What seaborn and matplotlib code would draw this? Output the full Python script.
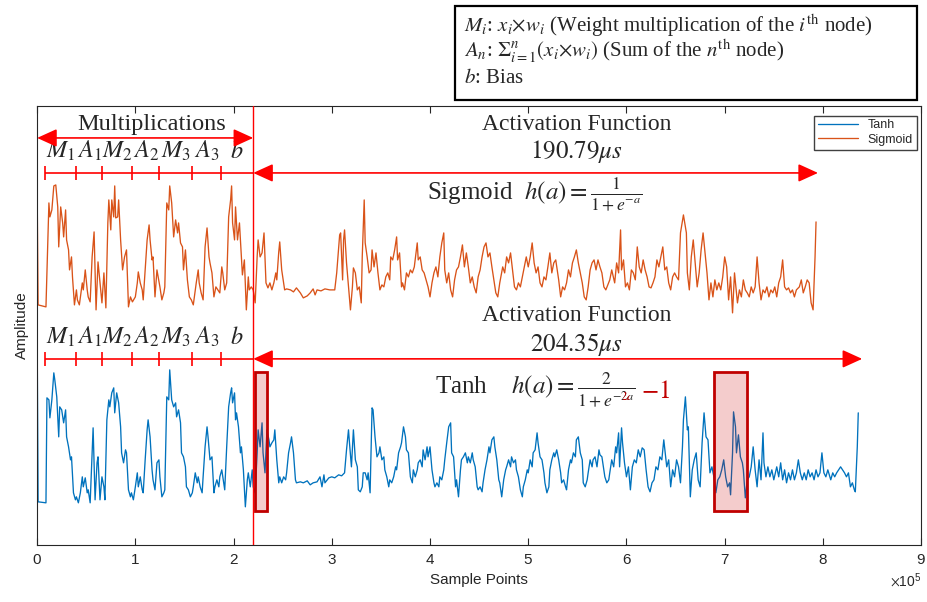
import numpy as np
import pandas as pd
import matplotlib
matplotlib.use("Agg")
import matplotlib.pyplot as plt
import seaborn as sns
from matplotlib.patches import Rectangle
from matplotlib.transforms import Bbox, TransformedBbox, IdentityTransform

# ---------------------------------------------------------------------------
# Power traces (x in thousands of samples, amplitude in arbitrary units)
# ---------------------------------------------------------------------------
sigmoid_x = [
    0, 1, 9, 12, 13, 15, 17, 19, 21, 22,
    24, 26, 27, 29, 30, 32, 33, 35, 36, 38,
    40, 41, 43, 46, 47, 49, 51, 52, 54, 56,
    58, 60, 62, 64, 66, 68, 70, 72, 73, 75,
    76, 78, 79, 80, 82, 83, 85, 87, 89, 91,
    93, 95, 97, 100, 102, 103, 105, 107, 108, 110,
    112, 114, 115, 117, 118, 120, 122, 125, 127, 129,
    130, 132, 134, 135, 137, 139, 141, 143, 144, 146,
    148, 149, 151, 153, 155, 157, 159, 162, 164, 165,
    167, 169, 171, 173, 175, 176, 178, 180, 182, 184,
    186, 188, 189, 191, 193, 195, 197, 198, 199, 201,
    202, 204, 206, 208, 209, 211, 213, 215, 216, 218,
    220, 222, 224, 225, 227, 229, 231, 233, 235, 237,
    239, 241, 243, 244, 246, 247, 249, 252, 254, 258,
    261, 264, 268, 271, 275, 278, 281, 283, 285, 289,
    293, 298, 303, 305, 308, 309, 311, 312, 313, 315,
    317, 319, 321, 322, 324, 326, 328, 330, 331, 333,
    334, 336, 338, 340, 341, 343, 345, 347, 349, 351,
    353, 355, 357, 359, 360, 362, 364, 366, 367, 369,
    371, 372, 374, 376, 378, 380, 382, 384, 387, 388,
    390, 392, 394, 396, 398, 400, 402, 404, 406, 408,
    410, 412, 414, 415, 417, 419, 421, 423, 425, 427,
    429, 431, 433, 435, 437, 439, 441, 443, 445, 447,
    449, 451, 453, 455, 457, 459, 461, 463, 465, 467,
    469, 471, 474, 476, 478, 480, 482, 484, 486, 488,
    490, 492, 494, 496, 498, 500, 502, 504, 506, 508,
    510, 512, 514, 516, 518, 520, 522, 524, 526, 528,
    531, 533, 535, 537, 539, 541, 543, 545, 547, 549,
    551, 553, 555, 557, 559, 561, 563, 565, 567, 569,
    571, 573, 575, 577, 579, 583, 585, 588, 590, 592,
    594, 595, 597, 599, 601, 603, 605, 607, 609, 611,
    613, 615, 617, 619, 621, 623, 625, 627, 629, 631,
    633, 635, 637, 639, 641, 643, 645, 647, 649, 651,
    653, 655, 658, 660, 661, 662, 664, 666, 668, 670,
    672, 674, 676, 678, 680, 682, 684, 686, 688, 690,
    692, 694, 696, 698, 700, 702, 704, 706, 708, 710,
    713, 715, 717, 719, 721, 723, 725, 727, 729, 731,
    733, 735, 737, 739, 741, 743, 745, 747, 749, 751,
    753, 755, 757, 759, 761, 763, 765, 767, 769, 771,
    773, 776, 778, 780, 782, 784, 786, 788, 790, 792, 793,
]
sigmoid_amp = [
    357, 240, 238, 342, 328, 335, 359, 360, 338, 298,
    338, 322, 308, 335, 305, 295, 275, 288, 268, 240,
    255, 245, 240, 262, 255, 275, 255, 248, 243, 288,
    313, 235, 283, 262, 242, 272, 237, 322, 345, 315,
    345, 328, 359, 327, 328, 345, 305, 275, 288, 295,
    238, 248, 243, 248, 262, 273, 262, 255, 245, 275,
    305, 320, 305, 285, 288, 248, 275, 258, 245, 252,
    258, 342, 335, 359, 342, 308, 325, 312, 322, 302,
    298, 275, 295, 265, 248, 245, 240, 262, 275, 262,
    252, 245, 298, 317, 288, 282, 272, 248, 258, 255,
    252, 278, 272, 255, 262, 328, 345, 359, 322, 305,
    338, 305, 322, 288, 270, 285, 235, 268, 255, 258,
    255, 242, 288, 305, 288, 292, 312, 262, 257, 262,
    255, 262, 272, 265, 293, 303, 275, 255, 256, 255,
    253, 257, 252, 247, 249, 252, 256, 250, 255, 254,
    256, 255, 255, 272, 310, 312, 265, 305, 315, 282,
    258, 235, 258, 277, 272, 255, 258, 242, 288, 345,
    302, 288, 272, 275, 295, 278, 292, 272, 255, 260,
    258, 268, 272, 265, 288, 285, 295, 308, 285, 292,
    258, 262, 255, 272, 268, 275, 272, 278, 302, 285,
    288, 275, 272, 265, 258, 248, 262, 272, 278, 268,
    288, 302, 312, 275, 262, 272, 255, 248, 265, 275,
    278, 288, 300, 278, 292, 278, 262, 268, 258, 252,
    268, 275, 288, 298, 302, 288, 292, 278, 265, 252,
    248, 262, 278, 272, 288, 282, 292, 275, 258, 255,
    262, 258, 268, 278, 288, 278, 288, 302, 282, 272,
    278, 262, 258, 268, 265, 278, 292, 272, 282, 285,
    265, 248, 258, 255, 262, 275, 268, 282, 288, 295,
    282, 272, 262, 248, 245, 258, 275, 282, 285, 275,
    285, 278, 272, 258, 255, 265, 275, 262, 282, 272,
    315, 275, 285, 258, 262, 255, 275, 272, 265, 298,
    278, 272, 285, 275, 268, 258, 257, 262, 268, 285,
    278, 288, 298, 275, 278, 262, 255, 268, 272, 268,
    265, 312, 330, 318, 312, 272, 255, 288, 305, 282,
    258, 272, 295, 312, 292, 272, 245, 262, 248, 265,
    255, 262, 255, 268, 288, 278, 245, 268, 232, 272,
    242, 255, 248, 265, 255, 252, 248, 258, 252, 258,
    288, 262, 245, 255, 252, 258, 248, 255, 252, 258,
    248, 262, 268, 285, 258, 255, 257, 252, 255, 248,
    255, 258, 265, 252, 258, 265, 262, 242, 235, 288, 323,
]

tanh_x = [
    0, 1, 9, 10, 12, 13, 15, 17, 18, 20,
    22, 23, 25, 27, 29, 30, 32, 34, 35, 37,
    39, 40, 42, 44, 46, 47, 49, 51, 52, 54,
    56, 57, 59, 61, 62, 64, 66, 68, 69, 71,
    73, 74, 76, 78, 79, 81, 83, 85, 86, 88,
    90, 91, 93, 95, 96, 98, 100, 102, 103, 105,
    107, 108, 110, 112, 113, 115, 117, 118, 120, 122,
    124, 125, 127, 129, 130, 132, 134, 135, 137, 139,
    141, 142, 144, 146, 147, 149, 151, 152, 154, 156,
    158, 159, 161, 163, 164, 166, 168, 169, 171, 173,
    174, 176, 178, 180, 181, 183, 185, 186, 188, 190,
    191, 193, 195, 197, 198, 199, 201, 202, 203, 205,
    207, 208, 210, 212, 214, 215, 217, 219, 220, 222,
    224, 225, 227, 229, 230, 232, 234, 236, 237, 239,
    241, 242, 244, 246, 247, 249, 251, 253, 254, 256,
    258, 259, 261, 263, 264, 268, 271, 275, 278, 281,
    285, 288, 290, 292, 293, 297, 300, 303, 307, 310,
    313, 315, 317, 318, 320, 322, 324, 326, 327, 329,
    331, 332, 334, 336, 337, 339, 341, 342, 344, 346,
    348, 349, 351, 353, 354, 356, 358, 359, 361, 363,
    365, 366, 368, 370, 371, 373, 375, 376, 378, 380,
    382, 383, 385, 387, 388, 390, 392, 393, 395, 397,
    398, 400, 402, 404, 405, 407, 409, 410, 412, 414,
    415, 417, 419, 421, 422, 424, 426, 427, 429, 431,
    432, 434, 436, 438, 439, 441, 443, 444, 446, 448,
    449, 451, 453, 454, 456, 458, 460, 461, 463, 465,
    466, 468, 470, 471, 473, 475, 477, 478, 480, 482,
    483, 485, 487, 488, 490, 492, 494, 495, 497, 499,
    500, 502, 504, 505, 507, 509, 510, 512, 514, 516,
    517, 519, 521, 522, 524, 526, 527, 529, 531, 533,
    534, 536, 538, 539, 541, 543, 544, 546, 548, 549,
    551, 553, 555, 556, 558, 560, 561, 563, 565, 566,
    568, 570, 572, 573, 575, 577, 578, 580, 582, 583,
    585, 587, 589, 590, 592, 593, 595, 596, 598, 600,
    602, 604, 606, 608, 610, 612, 614, 616, 618, 620,
    622, 624, 626, 628, 630, 632, 634, 636, 638, 641,
    643, 645, 647, 649, 651, 653, 655, 657, 658, 660,
    662, 663, 665, 667, 669, 671, 673, 675, 677, 679,
    681, 683, 685, 687, 689, 691, 693, 695, 697, 699,
    701, 703, 705, 706, 708, 709, 711, 712, 714, 716,
    718, 719, 721, 723, 725, 727, 729, 731, 733, 735,
    737, 739, 740, 742, 744, 746, 748, 750, 753, 755,
    757, 759, 761, 763, 765, 767, 769, 771, 773, 775,
    777, 779, 781, 783, 785, 787, 789, 791, 793, 795,
    797, 799, 801, 803, 805, 808, 810, 812, 814, 816,
    818, 820, 822, 824, 826, 828, 830, 832, 833, 835, 836,
]
tanh_amp = [
    215, 43, 42, 147, 145, 127, 145, 172, 165, 148,
    108, 138, 135, 122, 135, 108, 98, 85, 88, 52,
    45, 48, 42, 52, 68, 58, 67, 52, 55, 42,
    92, 117, 45, 82, 88, 45, 68, 58, 45, 125,
    145, 138, 152, 157, 132, 152, 142, 118, 92, 82,
    95, 92, 55, 48, 52, 45, 58, 72, 58, 68,
    55, 52, 85, 115, 125, 108, 75, 65, 55, 82,
    85, 68, 48, 52, 55, 148, 145, 175, 145, 138,
    142, 128, 135, 122, 92, 88, 78, 58, 55, 48,
    52, 58, 72, 62, 68, 58, 52, 68, 98, 118,
    108, 85, 88, 52, 58, 65, 58, 68, 75, 62,
    55, 98, 138, 152, 157, 142, 152, 125, 132, 118,
    92, 98, 75, 38, 65, 72, 58, 75, 58, 52,
    92, 115, 98, 122, 92, 72, 115, 105, 98, 102,
    105, 115, 85, 62, 68, 62, 68, 65, 72, 92,
    102, 108, 92, 65, 62, 63, 62, 64, 60, 62,
    63, 68, 58, 70, 62, 67, 68, 67, 70, 69,
    72, 95, 115, 102, 78, 115, 85, 78, 55, 53,
    58, 72, 72, 65, 72, 52, 137, 135, 108, 88,
    92, 98, 85, 88, 75, 68, 58, 65, 62, 68,
    78, 75, 92, 98, 102, 118, 108, 95, 92, 68,
    62, 75, 68, 75, 82, 85, 78, 95, 85, 98,
    88, 98, 75, 62, 58, 62, 58, 68, 65, 75,
    85, 102, 118, 122, 92, 88, 58, 65, 48, 75,
    85, 88, 92, 82, 88, 82, 92, 85, 78, 58,
    55, 58, 53, 62, 75, 85, 98, 92, 105, 108,
    98, 85, 65, 62, 48, 65, 75, 78, 85, 78,
    88, 82, 85, 75, 68, 55, 48, 58, 65, 75,
    72, 85, 78, 92, 95, 112, 102, 88, 85, 72,
    62, 52, 58, 75, 85, 92, 88, 95, 85, 72,
    62, 65, 58, 55, 75, 85, 82, 92, 88, 105,
    108, 92, 85, 62, 58, 65, 72, 85, 78, 85,
    88, 78, 95, 90, 88, 75, 68, 62, 65, 72,
    85, 78, 98, 92, 112, 78, 117, 102, 82, 68,
    78, 55, 78, 85, 82, 95, 88, 97, 95, 75,
    58, 53, 62, 65, 78, 75, 88, 85, 105, 78,
    85, 58, 75, 68, 85, 78, 62, 98, 125, 148,
    115, 118, 48, 75, 85, 92, 65, 58, 102, 132,
    108, 105, 72, 78, 68, 52, 65, 68, 75, 85,
    68, 58, 62, 50, 92, 133, 118, 92, 110, 88,
    82, 75, 47, 65, 68, 78, 98, 75, 58, 85,
    65, 112, 82, 68, 78, 68, 75, 65, 78, 68,
    82, 65, 75, 62, 72, 65, 75, 65, 72, 85,
    72, 65, 72, 65, 75, 68, 72, 65, 75, 68,
    72, 92, 72, 68, 75, 65, 72, 68, 72, 75,
    78, 75, 72, 68, 72, 58, 62, 55, 53, 98, 132,
]

# Stage boundaries of the multiply/accumulate phase (thousands of samples)
stage_edges = [8, 40, 66, 97, 124, 158, 187]
stage_labels = [r"$M_1$", r"$A_1$", r"$M_2$", r"$A_2$", r"$M_3$", r"$A_3$", r"$b$"]
activation_start = 220          # end of the MAC phase
sigmoid_end = 795
tanh_end = 840
sigmoid_time = "190.79"
tanh_time = "204.35"
# Highlighted regions of the tanh trace: (start, width), thousands of samples
tanh_highlights = [(222, 12), (689, 34)]

K = 1000
series_order = ["Tanh", "Sigmoid"]
colors = {"Tanh": "#0072BD", "Sigmoid": "#D95319"}

df = pd.concat([
    pd.DataFrame({"Sample": np.array(tanh_x) * K, "Amplitude": tanh_amp,
                  "Function": "Tanh"}),
    pd.DataFrame({"Sample": np.array(sigmoid_x) * K, "Amplitude": sigmoid_amp,
                  "Function": "Sigmoid"}),
], ignore_index=True)

sns.set_theme(style="white")
plt.rcParams["font.family"] = ["Liberation Sans", "DejaVu Sans"]
plt.rcParams["mathtext.fontset"] = "stix"
SERIF = "Liberation Serif"

fig = plt.figure(figsize=(9.28, 6.02), dpi=100)
ax = fig.add_axes([0.040, 0.095, 0.9526, 0.729])

sns.lineplot(data=df, x="Sample", y="Amplitude", hue="Function",
             hue_order=series_order, palette=colors, linewidth=0.95,
             estimator=None, sort=False, ax=ax)

ax.set_xlim(0, 9e5)
ax.set_ylim(0, 439)
ax.set_xticks(np.arange(0, 9e5 + 1, 1e5))
ax.set_yticks([])
ax.ticklabel_format(axis="x", style="sci", scilimits=(5, 5), useMathText=True)
ax.tick_params(axis="x", direction="in", top=True, bottom=True, length=5,
               width=0.8, colors="#262626", labelsize=11, pad=6)
ax.xaxis.get_offset_text().set_fontsize(10)
for s in ax.spines.values():
    s.set_color("#262626")
    s.set_linewidth(0.8)
ax.set_xlabel("Sample Points", fontsize=11, color="#262626", labelpad=4)
ax.set_ylabel("Amplitude", fontsize=11, color="#262626", labelpad=6)

handles, labels = ax.get_legend_handles_labels()
ax.legend(handles, labels, loc="upper right", bbox_to_anchor=(0.995, 0.978),
          fontsize=9, frameon=True, fancybox=False, framealpha=1,
          edgecolor="#404040", handlelength=3.2, borderpad=0.3,
          labelspacing=0.2, borderaxespad=0)

RED = "red"
DARK_RED = "#C00000"
ax.axvline(activation_start * K, color=RED, lw=1.0, zorder=3)

def two_way_arrow(x0, x1, y):
    ax.annotate("", xy=(x0, y), xytext=(x1, y),
                arrowprops=dict(arrowstyle="<|-|>,head_length=0.55,head_width=0.25",
                                color=RED, lw=1.2, shrinkA=0, shrinkB=0,
                                mutation_scale=22), zorder=4)

def stage_ruler(y):
    ax.hlines(y, stage_edges[0] * K, activation_start * K, color=RED, lw=1.2)
    ax.vlines(np.array(stage_edges) * K, y - 7, y + 7, color=RED, lw=1.2)
    bounds = stage_edges + [activation_start]
    for i, lab in enumerate(stage_labels):
        xc = (bounds[i] + bounds[i + 1]) / 2 * K
        ax.text(xc, y + 15, lab, ha="center", va="baseline", fontsize=17.5)

# Multiplication phase header
ax.text(117 * K, 420, "Multiplications", ha="center", va="center",
        fontsize=17.5, family=SERIF)
two_way_arrow(0, activation_start * K, 407)

# Sigmoid annotations
stage_ruler(372)
two_way_arrow(activation_start * K, sigmoid_end * K, 372)
ax.text(549 * K, 420, "Activation Function", ha="center", va="center",
        fontsize=17, family=SERIF)
ax.text(549 * K, 393, rf"${sigmoid_time}\mu s$", ha="center", va="center",
        fontsize=18)
ax.text(397 * K, 345, r"Sigmoid  $h(a) = \frac{1}{1+e^{-a}}$", ha="left",
        va="baseline", fontsize=18, family=SERIF)

# Tanh annotations
stage_ruler(186)
two_way_arrow(activation_start * K, tanh_end * K, 186)
ax.text(549 * K, 229, "Activation Function", ha="center", va="center",
        fontsize=17, family=SERIF)
ax.text(549 * K, 200, rf"${tanh_time}\mu s$", ha="center", va="center",
        fontsize=18)

tanh_kw = dict(ha="left", va="baseline", fontsize=18, family=SERIF)
tanh_pos = (405 * K, 150)
tanh_formula = r"Tanh    $h(a) = \frac{2}{1+e^{-2a}}$"
t_black = ax.text(*tanh_pos, tanh_formula, **tanh_kw)
ax.annotate(r"$-1$", xy=(1, 0.5), xycoords=t_black, xytext=(4, 0),
            textcoords="offset points", ha="left", va="center",
            fontsize=18, color=DARK_RED)

# colour the "2" of the exponent red by overdrawing a clipped red copy
fig.canvas.draw()
renderer = fig.canvas.get_renderer()

def right_edge(s):
    tmp = ax.text(*tanh_pos, s, **tanh_kw)
    x1 = tmp.get_window_extent(renderer).x1
    tmp.remove()
    return x1

x_lo = right_edge(r"Tanh    $h(a) = \frac{2}{1+e^{-}}$")
x_hi = right_edge(r"Tanh    $h(a) = \frac{2}{1+e^{-2}}$")
bb = t_black.get_window_extent(renderer)
t_red = ax.text(*tanh_pos, tanh_formula, color=DARK_RED, **tanh_kw)
t_red.set_clip_path(None)
t_red.set_clip_box(TransformedBbox(
    Bbox([[x_lo - 0.3, bb.y0], [x_hi + 0.3, bb.y0 + 0.47 * bb.height]]),
    IdentityTransform()))
t_red.set_clip_on(True)

for start, width in tanh_highlights:
    ax.add_patch(Rectangle((start * K, 34), width * K, 139,
                           facecolor=(0.80, 0.0, 0.0, 0.2),
                           edgecolor=DARK_RED, lw=2, zorder=5))

# Legend box of the notation used above the chart
fig.patches.append(Rectangle((455 / 928, 1 - 100 / 602), 462 / 928, 94 / 602,
                             transform=fig.transFigure, facecolor="white",
                             edgecolor="black", lw=1.6))
notes = [
    r"$M_i$: $x_i{\times}w_i$ (Weight multiplication of the $i^{\mathrm{th}}$ node)",
    r"$A_n$: $\Sigma_{i=1}^{n}(x_i{\times}w_i)$ (Sum of the $n^{\mathrm{th}}$ node)",
    r"$b$: Bias",
]
for i, line in enumerate(notes):
    fig.text(464 / 928, 1 - (32 + 25.5 * i) / 602, line, ha="left",
             va="baseline", fontsize=15, family=SERIF)

fig.savefig("out.png", dpi=100)
